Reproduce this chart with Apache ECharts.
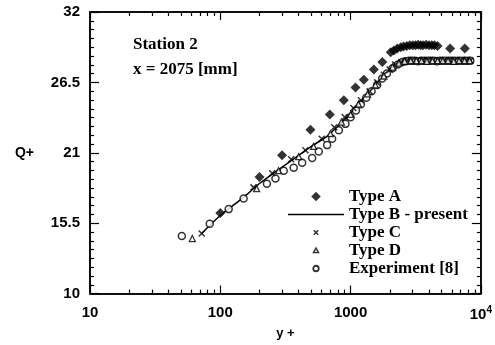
<!DOCTYPE html>
<html>
<head>
<meta charset="utf-8">
<script src="https://cdn.jsdelivr.net/npm/echarts@6/dist/echarts.min.js"></script>
<style>
html,body{margin:0;padding:0;background:#fff;}
#chart{width:495px;height:345px;}
</style>
</head>
<body>
<div id="chart"></div>
<script>
// ---- data ----
var seriesNames = ['Type A', 'Type B - present', 'Type C', 'Type D', 'Experiment [8]'];

var typeA_x = [100, 200, 298, 492, 693, 887, 1091, 1264, 1510, 1753, 2031, 2150, 2280, 2426, 2550, 2700, 2850, 3000, 3150, 3300, 3450, 3600, 3800, 4000, 4200, 4400, 4650, 5810, 7530];
var typeA_y = [16.3, 19.1, 20.8, 22.8, 24.0, 25.1, 26.1, 26.7, 27.5, 28.1, 28.85, 29.0, 29.15, 29.25, 29.3, 29.35, 29.4, 29.4, 29.4, 29.45, 29.4, 29.4, 29.45, 29.4, 29.4, 29.4, 29.35, 29.15, 29.15];

var typeB_x = [72, 100, 150, 200, 300, 400, 500, 661, 800, 1000, 1250, 1500, 1750, 2000, 2300, 2700, 3200, 4000, 5000, 6500, 8300];
var typeB_y = [14.7, 16.1, 17.5, 18.6, 19.9, 20.8, 21.5, 22.3, 23.1, 24.1, 25.2, 26.1, 26.9, 27.5, 27.95, 28.15, 28.2, 28.2, 28.2, 28.2, 28.2];

var typeC_x = [72, 180, 250, 350, 450, 600, 750, 900, 1050, 1200, 1400, 1600, 1800, 2000, 2200, 2450, 2700, 2950, 3250, 3550, 3900, 4300, 4700, 5200, 5700, 6300, 7000, 7700, 8300];
var typeC_y = [14.7, 18.3, 19.4, 20.5, 21.2, 22.1, 23.0, 23.8, 24.5, 25.1, 25.8, 26.5, 27.1, 27.5, 27.9, 28.1, 28.2, 28.2, 28.25, 28.2, 28.2, 28.25, 28.2, 28.2, 28.2, 28.2, 28.2, 28.2, 28.2];

var typeD_x = [61, 190, 280, 400, 520, 700, 850, 1000, 1150, 1350, 1550, 1800, 2100, 2350, 2600, 2900, 3200, 3500, 3850, 4250, 4650, 5100, 5600, 6200, 6800, 7500, 8200];
var typeD_y = [14.3, 18.2, 19.6, 20.7, 21.5, 22.5, 23.4, 24.0, 24.8, 25.6, 26.3, 27.0, 27.7, 28.0, 28.15, 28.2, 28.2, 28.2, 28.15, 28.2, 28.2, 28.2, 28.2, 28.15, 28.2, 28.2, 28.2];

var exp_x = [50.7, 83, 116, 151, 228, 265, 307, 366, 425, 507, 570, 661, 722, 813, 913, 1000, 1100, 1200, 1320, 1450, 1600, 1750, 1900, 2100, 2300, 2500, 2650, 2800, 2950, 3100, 3300, 3500, 3700, 3900, 4100, 4350, 4600, 4850, 5100, 5400, 5700, 6000, 6300, 6700, 7100, 7500, 7900, 8300];
var exp_y = [14.5, 15.46, 16.6, 17.43, 18.58, 19.0, 19.59, 19.84, 20.22, 20.6, 21.1, 21.6, 22.1, 22.76, 23.26, 23.77, 24.3, 24.8, 25.3, 25.8, 26.3, 26.8, 27.2, 27.6, 27.9, 28.1, 28.15, 28.2, 28.2, 28.2, 28.15, 28.2, 28.2, 28.2, 28.2, 28.2, 28.15, 28.2, 28.2, 28.2, 28.2, 28.2, 28.2, 28.2, 28.2, 28.2, 28.2, 28.2];

var yTickLabels = [10, 15.5, 21, 26.5, 32];
var xTickLabels = [10, 100, 1000, 10000];

// ---- build ----
function pairs(xs, ys) { return xs.map(function (x, i) { return [x, ys[i]]; }); }

// minor ticks: 8 subdivisions between major y ticks, 2..9 per decade on x
var yMinor = [];
for (var i = 0; i < yTickLabels.length - 1; i++) {
  var a = yTickLabels[i], b = yTickLabels[i + 1];
  for (var k = 1; k < 8; k++) yMinor.push(+(a + (b - a) * k / 8).toFixed(4));
}
var xMinor = [];
for (var d = 0; d < xTickLabels.length - 1; d++) {
  for (var m = 2; m <= 9; m++) xMinor.push(xTickLabels[d] * m);
}

var XPATH = 'path://M0,0L10,10M10,0L0,10';
// legend icons (square bounding boxes padded with move-to points so they keep size)
var DIA_L = 'path://M0,0M20,20M10,0.5L19.5,10L10,19.5L0.5,10Z';
var LINE_L = 'path://M0,0M56,10M0,4.3L56,4.3L56,5.7L0,5.7Z';
var XPATH_L = 'path://M0,0M20,20M5.5,5.5L14.5,14.5M14.5,5.5L5.5,14.5';
var TRI_L = 'path://M0,0M20,20M10,5L15,14L5,14Z';
var CIR_L = 'path://M0,0M20,20M15.5,10A5.5,5.5,0,1,1,4.5,10A5.5,5.5,0,1,1,15.5,10Z';

var axisLineStyle = { color: '#000', width: 1.5 };
var serifFont = 'Liberation Serif';

function xAx(pos, vals, len, showLabel) {
  var ax = {
    type: 'log', logBase: 10, min: 10, max: 10000, position: pos, gridIndex: 0,
    axisLine: { show: true, lineStyle: axisLineStyle },
    axisTick: { show: true, inside: true, length: len, lineStyle: { color: '#000', width: 1.2 } },
    axisLabel: { show: false },
    splitLine: { show: false }
  };
  if (vals) ax.axisTick.customValues = vals;
  if (showLabel) {
    ax.axisLabel = {
      show: true, margin: 12,
      fontFamily: 'Liberation Sans', fontWeight: 'bold', fontSize: 15, color: '#000',
      formatter: function (v) { return v >= 9999 ? '10{s|4}' : String(Math.round(v)); },
      rich: { s: { fontSize: 10, fontWeight: 'bold', fontFamily: 'Liberation Sans', verticalAlign: 'top', padding: [0, 0, 8, 0] } }
    };
    ax.name = 'y +';
    ax.nameLocation = 'middle';
    ax.nameGap = 22;
    ax.nameTextStyle = { fontFamily: 'Liberation Sans', fontWeight: 'bold', fontSize: 13, color: '#000' };
  }
  return ax;
}
function yAx(pos, vals, len, showLabel) {
  var ax = {
    type: 'value', min: 10, max: 32, position: pos, gridIndex: 0,
    axisLine: { show: true, lineStyle: axisLineStyle },
    axisTick: { show: true, inside: true, length: len, customValues: vals, lineStyle: { color: '#000', width: 1.2 } },
    axisLabel: { show: false },
    splitLine: { show: false }
  };
  if (showLabel) {
    ax.axisLabel = { show: true, margin: 10, customValues: yTickLabels,
      fontFamily: 'Liberation Sans', fontWeight: 'bold', fontSize: 15, color: '#000' };
    ax.name = 'Q+';
    ax.nameLocation = 'middle';
    ax.nameRotate = 0;
    ax.nameGap = 56;
    ax.nameTextStyle = { fontFamily: 'Liberation Sans', fontWeight: 'bold', fontSize: 14, color: '#000' };
  }
  return ax;
}

var chart = echarts.init(document.getElementById('chart'), null, { renderer: 'canvas' });
chart.setOption({
  animation: false,
  backgroundColor: '#fff',
  grid: { left: 90, right: 14, top: 12, bottom: 44, containLabel: false },
  xAxis: [
    xAx('bottom', null, 8, true),
    xAx('bottom', xMinor, 4, false),
    xAx('top', null, 8, false),
    xAx('top', xMinor, 4, false)
  ],
  yAxis: [
    yAx('left', yTickLabels, 9, true),
    yAx('left', yMinor, 4, false),
    yAx('right', yTickLabels, 9, false),
    yAx('right', yMinor, 4, false)
  ],
  legend: {
    orient: 'vertical', left: 288, top: 188,
    itemWidth: 56, itemHeight: 10, itemGap: 1,
    padding: 0,
    symbolKeepAspect: true,
    textStyle: { fontFamily: serifFont, fontWeight: 'bold', fontSize: 17, color: '#000' },
    selectedMode: false,
    data: [
      { name: seriesNames[0], icon: DIA_L, itemStyle: { color: '#000', borderWidth: 0 } },
      { name: seriesNames[1], icon: LINE_L, itemStyle: { color: '#000', borderWidth: 0 } },
      { name: seriesNames[2], icon: XPATH_L, itemStyle: { color: 'rgba(0,0,0,0)', borderColor: '#000', borderWidth: 1.6 } },
      { name: seriesNames[3], icon: TRI_L, itemStyle: { color: '#fff', borderColor: '#000', borderWidth: 1.5 } },
      { name: seriesNames[4], icon: CIR_L, itemStyle: { color: '#fff', borderColor: '#000', borderWidth: 1.8 } }
    ]
  },
  graphic: [
    { type: 'text', left: 133, top: 36, style: { text: 'Station 2', fontFamily: serifFont, fontWeight: 'bold', fontSize: 17, fill: '#000' } },
    { type: 'text', left: 133, top: 61, style: { text: 'x = 2075 [mm]', fontFamily: serifFont, fontWeight: 'bold', fontSize: 17, fill: '#000' } }
  ],
  series: [
    { name: seriesNames[1], type: 'line', data: pairs(typeB_x, typeB_y), symbol: 'none', smooth: 0.3,
      lineStyle: { color: '#000', width: 1.5 }, itemStyle: { color: '#000' }, z: 2 },
    { name: seriesNames[4], type: 'scatter', data: pairs(exp_x, exp_y), symbol: 'circle', symbolSize: 7,
      itemStyle: { color: '#fff', borderColor: '#000', borderWidth: 1.5 }, z: 3 },
    { name: seriesNames[2], type: 'scatter', data: pairs(typeC_x, typeC_y), symbol: XPATH, symbolSize: 6,
      itemStyle: { color: 'rgba(0,0,0,0)', borderColor: '#000', borderWidth: 1.5 }, z: 4 },
    { name: seriesNames[3], type: 'scatter', data: pairs(typeD_x, typeD_y), symbol: 'triangle', symbolSize: 6,
      itemStyle: { color: '#fff', borderColor: '#000', borderWidth: 1.3 }, z: 4 },
    { name: seriesNames[0], type: 'scatter', data: pairs(typeA_x, typeA_y), symbol: 'diamond', symbolSize: 10,
      itemStyle: { color: '#000' }, z: 5 }
  ]
});
</script>
</body>
</html>
